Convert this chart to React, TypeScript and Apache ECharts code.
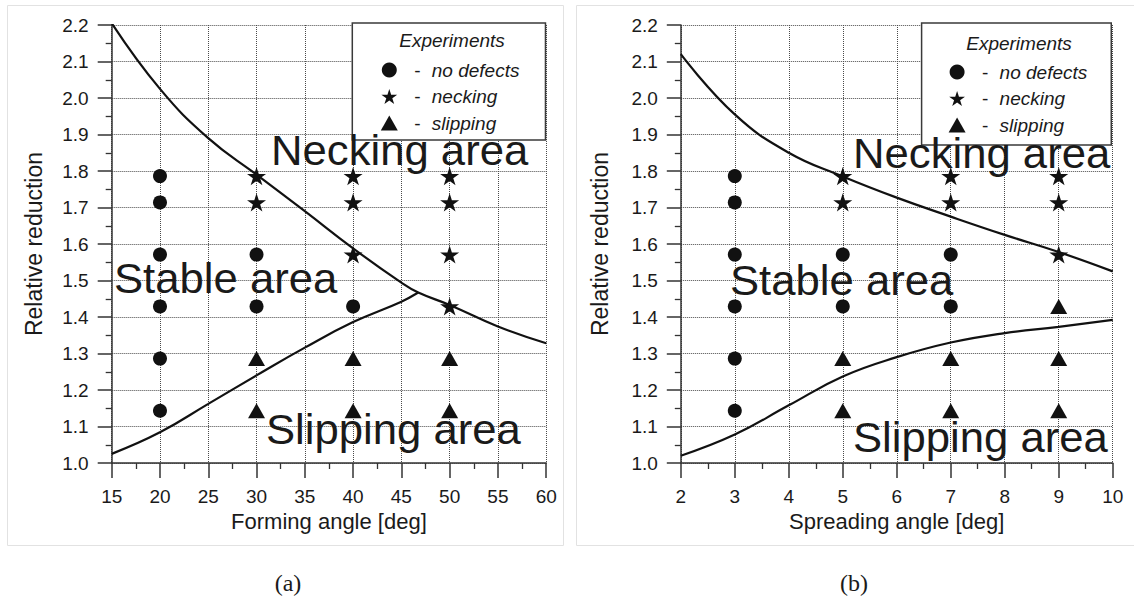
import React, { useEffect, useRef } from "react";
import * as echarts from "echarts";

// ---------- data ----------
// Panel (a): forming angle
const aNoDefects: number[][] = [
  [20, 1.786], [20, 1.714], [20, 1.571], [20, 1.429], [20, 1.286], [20, 1.143],
  [30, 1.571], [30, 1.429],
  [40, 1.429],
];
const aNecking: number[][] = [
  [30, 1.786], [30, 1.714],
  [40, 1.786], [40, 1.714], [40, 1.571],
  [50, 1.786], [50, 1.714], [50, 1.571], [50, 1.429],
];
const aSlipping: number[][] = [
  [30, 1.286], [30, 1.143],
  [40, 1.286], [40, 1.143],
  [50, 1.286], [50, 1.143],
];
const aUpperCurve: number[][] = [
  [15, 2.205], [20, 2.025], [25, 1.89], [30, 1.79], [35, 1.69], [40, 1.588],
  [45, 1.494], [46.75, 1.467], [50, 1.433], [55, 1.374], [60, 1.328],
];
const aLowerCurve: number[][] = [
  [15, 1.025], [20, 1.084], [25, 1.162], [30, 1.24], [35, 1.316], [40, 1.386], [45, 1.442], [46.75, 1.467],
];

// Panel (b): spreading angle
const bNoDefects: number[][] = [
  [3, 1.786], [3, 1.714], [3, 1.571], [3, 1.429], [3, 1.286], [3, 1.143],
  [5, 1.571], [5, 1.429],
  [7, 1.571], [7, 1.429],
];
const bNecking: number[][] = [
  [5, 1.786], [5, 1.714],
  [7, 1.786], [7, 1.714],
  [9, 1.786], [9, 1.714], [9, 1.571],
];
const bSlipping: number[][] = [
  [5, 1.286], [5, 1.143],
  [7, 1.286], [7, 1.143],
  [9, 1.429], [9, 1.286], [9, 1.143],
];
const bUpperCurve: number[][] = [
  [2, 2.12], [3, 1.955], [4, 1.85], [5, 1.785], [6, 1.727],
  [7, 1.675], [8, 1.625], [9, 1.578], [10, 1.525],
];
const bLowerCurve: number[][] = [
  [2, 1.02], [3, 1.078], [4, 1.158], [5, 1.237],
  [6, 1.29], [7, 1.33], [8, 1.356], [9, 1.373], [10, 1.392],
];

const legendNames = ["no defects", "necking", "slipping"];
const xNames = ["Forming angle [deg]", "Spreading angle [deg]"];
const yName = "Relative reduction";
const regionLabels = ["Necking area", "Stable area", "Slipping area"];
const legendTitle = "Experiments";
const panelLabels = ["(a)", "(b)"];

// ---------- styling ----------
const FONT = '"Liberation Sans", Arial, sans-serif';
const SERIF = '"Liberation Serif", "Times New Roman", serif';
const INK = "#1a1a1a";
const STAR =
  "path://M50 0 L61.23 34.55 L97.55 34.55 L68.16 55.9 L79.39 90.45 L50 69.1 L20.61 90.45 L31.84 55.9 L2.45 34.55 L38.77 34.55 Z";

function xAxisOpt(gridIndex: number, min: number, max: number, interval: number, name: string) {
  return {
    type: "value",
    gridIndex,
    min,
    max,
    interval,
    name,
    nameLocation: "middle",
    nameGap: 46,
    nameTextStyle: { fontSize: 22, color: INK, fontFamily: FONT },
    axisLine: { show: true, onZero: false, lineStyle: { color: "#333", width: 1.5 } },
    axisTick: { show: true, length: 15, lineStyle: { color: "#333", width: 1.5 } },
    minorTick: { show: true, splitNumber: 2, length: 6, lineStyle: { color: "#333", width: 1.3 } },
    axisLabel: { fontSize: 19, color: INK, margin: 24, fontFamily: FONT },
    splitLine: { show: true, lineStyle: { type: "dotted", color: "#4a4a4a", width: 1 } },
  };
}

function yAxisOpt(gridIndex: number, nameGap: number, labelMargin: number) {
  return {
    type: "value",
    gridIndex,
    min: 1.0,
    max: 2.2,
    interval: 0.1,
    name: yName,
    nameLocation: "middle",
    nameGap,
    nameTextStyle: { fontSize: 23, color: INK, fontFamily: FONT },
    axisLine: { show: true, onZero: false, lineStyle: { color: "#333", width: 1.5 } },
    axisTick: { show: true, length: 14, lineStyle: { color: "#333", width: 1.5 } },
    minorTick: { show: true, splitNumber: 2, length: 6, lineStyle: { color: "#333", width: 1.3 } },
    axisLabel: {
      fontSize: 19,
      color: INK,
      margin: labelMargin,
      fontFamily: FONT,
      formatter: (v: number) => v.toFixed(1),
    },
    splitLine: { show: true, lineStyle: { type: "dotted", color: "#4a4a4a", width: 1 } },
  };
}

function scatter(name: string, data: number[][], idx: number, symbol: string, size: number | number[]) {
  return {
    type: "scatter",
    name,
    data,
    xAxisIndex: idx,
    yAxisIndex: idx,
    symbol,
    symbolSize: size,
    symbolKeepAspect: true,
    itemStyle: { color: "#111", opacity: 1 },
    z: 5,
  };
}

function curve(name: string, data: number[][], idx: number) {
  return {
    type: "line",
    name,
    data,
    xAxisIndex: idx,
    yAxisIndex: idx,
    smooth: 0.45,
    showSymbol: false,
    symbol: "none",
    lineStyle: { color: "#111", width: 2.2 },
    z: 3,
  };
}

function legendOpt(left: number, padding: number[]) {
  return {
    data: legendNames,
    left,
    top: 23,
    orient: "vertical",
    itemWidth: 17,
    itemHeight: 15,
    itemGap: 7.5,
    padding,
    borderColor: "#3a3a3a",
    borderWidth: 1.5,
    backgroundColor: "#fff",
    selectedMode: false,
    formatter: (n: string) => `{d|-}{n|${n}}`,
    textStyle: {
      fontSize: 19,
      color: INK,
      fontFamily: FONT,
      rich: {
        d: { width: 29, align: "center", fontSize: 19, fontFamily: FONT, color: INK },
        n: { fontSize: 19, fontStyle: "italic", fontFamily: FONT, color: INK },
      },
    },
    z: 6,
  };
}

function label(text: string, x: number, y: number) {
  return {
    type: "text",
    x,
    y,
    z: 50,
    scaleX: 1.04,
    style: {
      text,
      fontSize: 42,
      lineHeight: 30,
      fontFamily: FONT,
      fill: INK,
      align: "left",
      verticalAlign: "middle",
    },
  };
}

function smallText(text: string, x: number, y: number, size: number, family: string, italic: boolean) {
  return {
    type: "text",
    x,
    y,
    z: 50,
    style: {
      text,
      fontSize: size,
      fontStyle: italic ? "italic" : "normal",
      fontFamily: family,
      fill: INK,
      align: "center",
      verticalAlign: "middle",
    },
  };
}

export default function App() {
  const ref = useRef<HTMLDivElement>(null);

  useEffect(() => {
    if (!ref.current) return;
    const chart = echarts.init(ref.current, null, { renderer: "svg" });
    chart.setOption({
      animation: false,
      backgroundColor: "#fff",
      grid: [
        { left: 111.7, top: 25, width: 434.5, height: 438 },
        { left: 680.8, top: 25, width: 431.9, height: 438 },
      ],
      xAxis: [xAxisOpt(0, 15, 60, 5, xNames[0]), xAxisOpt(1, 2, 10, 1, xNames[1])],
      yAxis: [yAxisOpt(0, 66, 23), yAxisOpt(1, 69, 23)],
      legend: [legendOpt(352.3, [37.5, 26, 7.5, 28.5]), legendOpt(921.6, [39.5, 24, 10.5, 27])],
      series: [
        curve("a necking limit", aUpperCurve, 0),
        curve("a slipping limit", aLowerCurve, 0),
        scatter(legendNames[0], aNoDefects, 0, "circle", 14),
        scatter(legendNames[1], aNecking, 0, STAR, 19),
        scatter(legendNames[2], aSlipping, 0, "triangle", [17, 15]),
        curve("b necking limit", bUpperCurve, 1),
        curve("b slipping limit", bLowerCurve, 1),
        scatter(legendNames[0], bNoDefects, 1, "circle", 14),
        scatter(legendNames[1], bNecking, 1, STAR, 19),
        scatter(legendNames[2], bSlipping, 1, "triangle", [17, 15]),
      ],
      graphic: [
        { type: "rect", z: -10, shape: { x: 7.5, y: 5.5, width: 556, height: 540 }, style: { fill: "none", stroke: "#e2e2e2", lineWidth: 1 } },
        { type: "rect", z: -10, shape: { x: 576.5, y: 5.5, width: 570, height: 540 }, style: { fill: "none", stroke: "#e2e2e2", lineWidth: 1 } },
        label(regionLabels[0], 271, 150),
        label(regionLabels[1], 114, 278),
        label(regionLabels[2], 266, 429),
        label(regionLabels[0], 853, 153),
        label(regionLabels[1], 730, 280),
        label(regionLabels[2], 853, 437),
        smallText(legendTitle, 452, 40, 19, FONT, true),
        smallText(legendTitle, 1019, 43, 19, FONT, true),
        smallText(panelLabels[0], 288, 583, 24, SERIF, false),
        smallText(panelLabels[1], 854, 583, 24, SERIF, false),
      ],
    });
    return () => chart.dispose();
  }, []);

  return (
    <div
      ref={ref}
      style={{ position: "absolute", left: 0, top: 0, width: 1134, height: 606, background: "#fff" }}
    />
  );
}
